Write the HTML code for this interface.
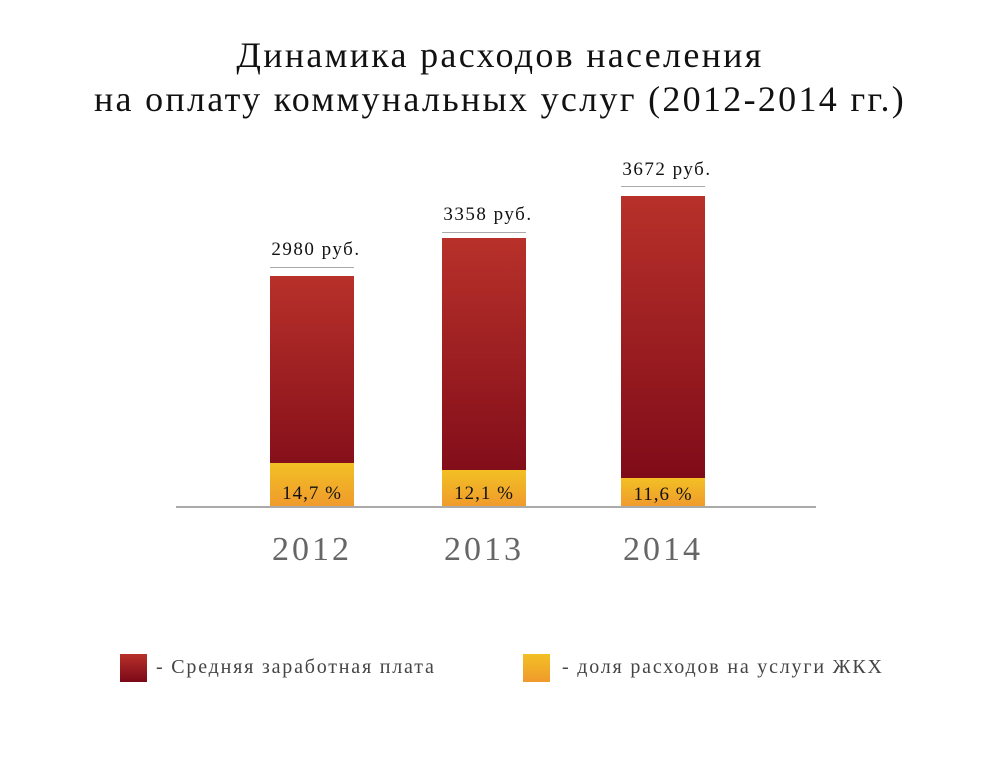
<!DOCTYPE html>
<html><head><meta charset="utf-8"><style>
body{margin:0;width:1000px;height:776px;background:#fff;position:relative;overflow:hidden;font-family:"Liberation Serif",serif}
.t{position:absolute;left:0;width:1000px;text-align:center;font-size:36px;color:#111;letter-spacing:2.3px}
.bar{position:absolute;width:84px;background:linear-gradient(#b8312a,#7a0817)}
.y{position:absolute;width:84px;bottom:269px;background:linear-gradient(#f2c024,#f09a2c);text-align:center;font-size:19px;letter-spacing:1px;color:#111;box-sizing:border-box;padding-top:20px}
.ln{position:absolute;width:84px;height:1px;background:#aaa}
.lb{position:absolute;width:140px;text-align:center;font-size:19px;letter-spacing:1.5px;color:#111}
.yr{position:absolute;width:140px;text-align:center;font-size:34px;color:#666;top:531px;letter-spacing:3px}
.sq{position:absolute;width:27px;height:28px;top:654px}
.lt{position:absolute;top:656px;font-size:20px;color:#444;letter-spacing:1.8px}
</style></head><body>
<div class="t" style="top:34px">Динамика расходов населения</div>
<div class="t" style="top:78px">на оплату коммунальных услуг (2012-2014 гг.)</div>

<div class="lb" style="left:246px;top:239px">2980 руб.</div>
<div class="ln" style="left:270px;top:267px"></div>
<div class="bar" style="left:270px;top:276px;height:231px"></div>
<div class="y" style="left:270px;top:463px">14,7 %</div>

<div class="lb" style="left:418px;top:204px">3358 руб.</div>
<div class="ln" style="left:442px;top:232px"></div>
<div class="bar" style="left:442px;top:238px;height:269px"></div>
<div class="y" style="left:442px;top:470px;padding-top:13px">12,1 %</div>

<div class="lb" style="left:597px;top:159px">3672 руб.</div>
<div class="ln" style="left:621px;top:186px"></div>
<div class="bar" style="left:621px;top:196px;height:311px"></div>
<div class="y" style="left:621px;top:478px;padding-top:6px">11,6 %</div>

<div style="position:absolute;left:176px;top:506px;width:640px;height:2px;background:#aaa"></div>
<div class="yr" style="left:242px">2012</div>
<div class="yr" style="left:414px">2013</div>
<div class="yr" style="left:593px">2014</div>

<div class="sq" style="left:120px;background:linear-gradient(#b8312a,#7a0817)"></div>
<div class="lt" style="left:156px">- Средняя заработная плата</div>
<div class="sq" style="left:523px;background:linear-gradient(#f2c024,#f09a2c)"></div>
<div class="lt" style="left:562px">- доля расходов на услуги ЖКХ</div>
</body></html>
